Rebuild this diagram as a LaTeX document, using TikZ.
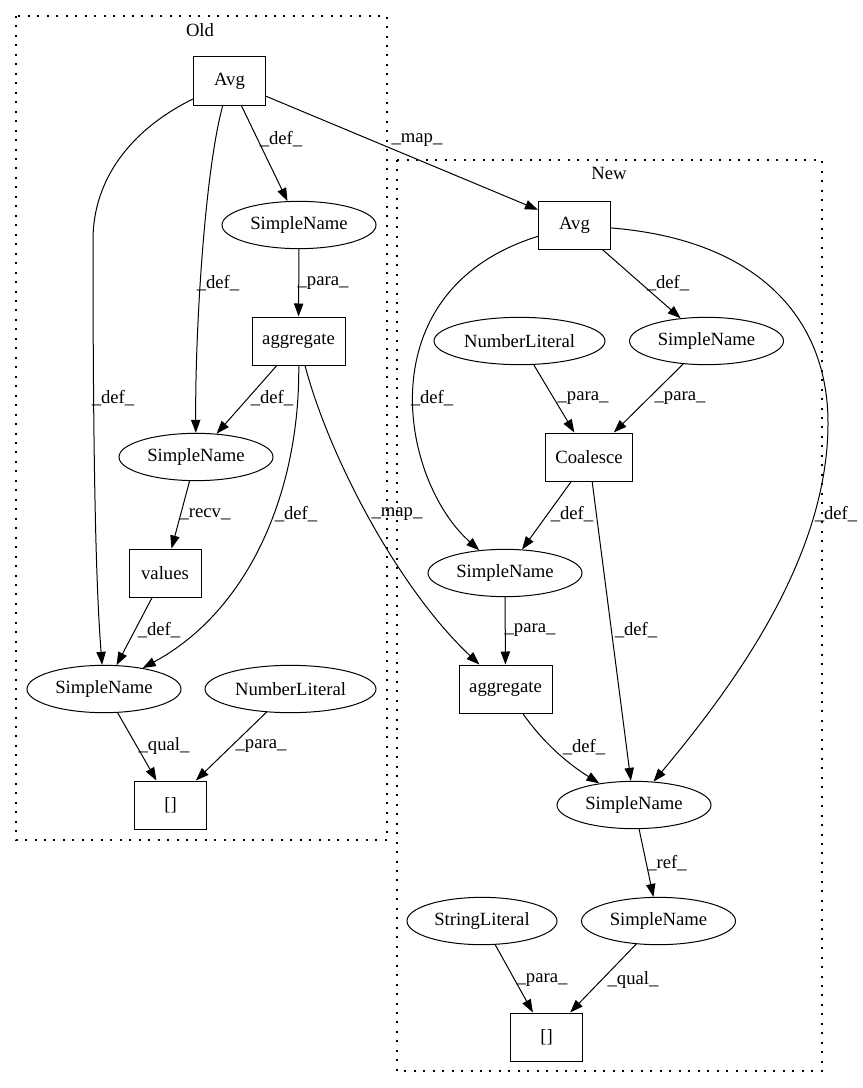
\documentclass[tikz,border=0pt]{standalone}
\usepackage{fontspec}
\setmainfont{Liberation Serif}
\usetikzlibrary{shapes.geometric,arrows.meta}
\begin{document}
\begin{tikzpicture}[x=0.75pt,y=-0.75pt,
  font=\fontsize{14}{16}\selectfont,
  line width=0.75pt,
  >={Triangle[length=9.75pt,width=7pt]},
  box/.style={draw, rectangle, minimum width=54pt, minimum height=36pt, inner sep=0pt},
  ell/.style={draw, ellipse, minimum width=115.5pt, minimum height=35.5pt, inner sep=0pt},
  lbl/.style={inner sep=0pt},
  edge/.style={->},
  cluster/.style={draw, dash pattern=on 1.5pt off 5.6pt, line width=1pt},
  ctitle/.style={inner sep=0pt}]
\useasboundingbox (0,0) rectangle (863,1088);

% clusters
\draw[cluster] (16,16) rectangle (387,840);
\node[ctitle] (toldt) at (200,30) {Old};
\draw[cluster] (397,160) rectangle (822,1071);
\node[ctitle] (tnew) at (609,173) {New};

% Old nodes
\node[box] (OAvg) at (229.5,81) {Avg};
\node[ell] (OSN1) at (299,225) {SimpleName};
\node[box, minimum width=69.75pt] (Oagg) at (298.5,341) {aggregate};
\node[ell] (OSN2) at (196,457) {SimpleName};
\node[box] (Ovalues) at (165,573) {values};
\node[ell] (OSN3) at (104,689) {SimpleName};
\node[ell, minimum width=128.25pt] (ONL) at (290.5,689) {NumberLiteral};
\node[box] (Obr) at (170.5,805) {[]};

% New nodes
\node[box] (NAvg) at (574.5,225) {Avg};
\node[ell, minimum width=128.25pt] (NNL) at (519.5,341) {NumberLiteral};
\node[ell] (NSN1) at (706.5,341) {SimpleName};
\node[box, minimum width=65.25pt] (NCoal) at (589,457) {Coalesce};
\node[ell] (NSN2) at (505,573) {SimpleName};
\node[box, minimum width=69.75pt] (Nagg) at (505.5,689) {aggregate};
\node[ell] (NSN3) at (634,805) {SimpleName};
\node[ell] (NSN4) at (658.5,921) {SimpleName};
\node[ell, minimum width=112.5pt] (NSL) at (482,921) {StringLiteral};
\node[box] (Nbr) at (546.5,1037) {[]};

% Old edges
\draw[edge] (OAvg) -- (OSN1) node[lbl,at={(281,139)}]{\_def\_};
\draw[edge] (OAvg) .. controls (205,170) and (195,330) .. (OSN2) node[lbl,at={(218,283)}]{\_def\_};
\draw[edge] (OAvg) .. controls (130,130) and (93,180) .. (93,240) .. controls (93,500) and (97,600) .. (OSN3) node[lbl,at={(113,398)}]{\_def\_};
\draw[edge] (OAvg) -- (NAvg) node[lbl,at={(417,140)}]{\_map\_};
\draw[edge] (OSN1) -- (Oagg) node[lbl,at={(323,283)}]{\_para\_};
\draw[edge] (Oagg) -- (OSN2) node[lbl,at={(272,398)}]{\_def\_};
\draw[edge] (Oagg) .. controls (300,490) and (250,610) .. (OSN3) node[lbl,at={(296,514)}]{\_def\_};
\draw[edge] (Oagg) .. controls (330,460) and (400,590) .. (Nagg) node[lbl,at={(397,514)}]{\_map\_};
\draw[edge] (OSN2) -- (Ovalues) node[lbl,at={(205,514)}]{\_recv\_};
\draw[edge] (Ovalues) -- (OSN3) node[lbl,at={(159,630)}]{\_def\_};
\draw[edge] (OSN3) -- (Obr) node[lbl,at={(164,746)}]{\_qual\_};
\draw[edge] (ONL) -- (Obr) node[lbl,at={(261,746)}]{\_para\_};

% New edges
\draw[edge] (NAvg) -- (NSN1) node[lbl,at={(668,283)}]{\_def\_};
\draw[edge] (NAvg) .. controls (365,290) and (400,480) .. (NSN2) node[lbl,at={(432,398)}]{\_def\_};
\draw[edge] (NAvg) .. controls (760,240) and (828,320) .. (828,423) .. controls (828,560) and (730,690) .. (NSN3) node[lbl,at={(836,514)}]{\_def\_};
\draw[edge] (NNL) -- (NCoal) node[lbl,at={(583,398)}]{\_para\_};
\draw[edge] (NSN1) -- (NCoal) node[lbl,at={(680,398)}]{\_para\_};
\draw[edge] (NCoal) -- (NSN2) node[lbl,at={(572,514)}]{\_def\_};
\draw[edge] (NCoal) -- (NSN3) node[lbl,at={(636,630)}]{\_def\_};
\draw[edge] (NSN2) -- (Nagg) node[lbl,at={(530,630)}]{\_para\_};
\draw[edge] (Nagg) .. controls (545,745) and (570,765) .. (NSN3) node[lbl,at={(584,747)}]{\_def\_};
\draw[edge] (NSN3) -- (NSN4) node[lbl,at={(667,863)}]{\_ref\_};
\draw[edge] (NSL) -- (Nbr) node[lbl,at={(542,980)}]{\_para\_};
\draw[edge] (NSN4) -- (Nbr) node[lbl,at={(633,980)}]{\_qual\_};
\end{tikzpicture}
\end{document}
